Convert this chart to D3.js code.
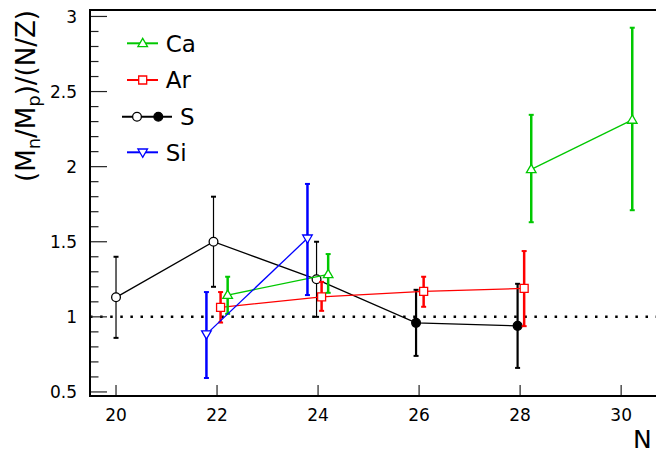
<!DOCTYPE html>
<html lang="en">
<head>
    <meta charset="UTF-8">
    <title>Mn/Mp ratio vs N</title>
    <script src="https://d3js.org/d3.v7.min.js"></script>
    <style>
        body {
            margin: 0;
            background: #fff;
            font-family: "DejaVu Sans", sans-serif;
        }
        svg {
            display: block;
        }
    </style>
</head>
<body>
    <div id="container"></div>

    <script>
        // ---- data ----
        // S (open circles for N=20..24, filled for 26, 28)
        const sN = [20.0, 21.93, 23.97, 25.94, 27.95];
        const sVal = [1.13, 1.50, 1.25, 0.96, 0.94];
        const sHi = [1.40, 1.80, 1.50, 1.18, 1.22];
        const sLo = [0.86, 1.20, 1.00, 0.74, 0.66];
        const sFilled = [false, false, false, true, true];

        // Ar
        const arN = [22.07, 24.07, 26.09, 28.08];
        const arVal = [1.063, 1.133, 1.169, 1.189];
        const arHi = [1.165, 1.233, 1.267, 1.438];
        const arLo = [0.962, 1.04, 1.067, 0.938];

        // Ca (two separate line pieces)
        const caN = [22.21, 24.2, 28.22, 30.22];
        const caVal = [1.145, 1.283, 1.982, 2.311];
        const caHi = [1.267, 1.418, 2.345, 2.925];
        const caLo = [1.02, 1.16, 1.63, 1.71];
        const caPiece = [0, 0, 1, 1];

        // Si
        const siN = [21.79, 23.79];
        const siVal = [0.885, 1.523];
        const siHi = [1.165, 1.885];
        const siLo = [0.593, 1.145];

        const xTicks = [20, 22, 24, 26, 28, 30];
        const yTicks = [0.5, 1, 1.5, 2, 2.5, 3];
        const legendNames = ['Ca', 'Ar', 'S', 'Si'];

        // ---- layout ----
        const width = 656, height = 455;
        const mLeft = 90, mTop = 10, mBottom = 396, mRight = 656;

        const svg = d3.select('#container').append('svg')
            .attr('width', width)
            .attr('height', height);

        const x = d3.scaleLinear().domain([19.485, 30.69]).range([mLeft, mRight]);
        const y = d3.scaleLinear().domain([0.473, 3.043]).range([mBottom, mTop]);

        const green = '#00c800', red = '#ff0000', blue = '#0000ff';

        // marker shapes
        function markerPath(kind) {
            if (kind === 'up') return 'M0,-5L4.8,3.3L-4.8,3.3Z';
            if (kind === 'down') return 'M0,5L4.8,-3.3L-4.8,-3.3Z';
            if (kind === 'square') return 'M-4,-4H4V4H-4Z';
            return d3.symbol().type(d3.symbolCircle).size(60)();
        }

        // ---- dotted line at 1 ----
        svg.append('line')
            .attr('x1', mLeft).attr('x2', mRight)
            .attr('y1', y(1)).attr('y2', y(1))
            .attr('stroke', '#000')
            .attr('stroke-width', 2.5)
            .attr('stroke-dasharray', '2.5 7.6');

        // ---- axes ----
        const yMinor = d3.range(5, 31).map(d => d / 10).filter(d => !yTicks.includes(d));

        svg.selectAll('.yminor')
            .data(yMinor)
            .enter()
            .append('line')
            .attr('x1', mLeft).attr('x2', mLeft + 8.5)
            .attr('y1', d => y(d)).attr('y2', d => y(d))
            .attr('stroke', '#222')
            .attr('stroke-width', 1.2);

        svg.selectAll('.ymajor')
            .data(yTicks)
            .enter()
            .append('line')
            .attr('x1', mLeft).attr('x2', mLeft + 17)
            .attr('y1', d => y(d)).attr('y2', d => y(d))
            .attr('stroke', '#222')
            .attr('stroke-width', 1.2);

        svg.selectAll('.ylab')
            .data(yTicks)
            .enter()
            .append('text')
            .attr('x', 77)
            .attr('y', d => y(d))
            .attr('dy', '0.36em')
            .attr('text-anchor', 'end')
            .attr('font-size', 17)
            .text(d => d);

        svg.selectAll('.xmajor')
            .data(xTicks)
            .enter()
            .append('line')
            .attr('x1', d => x(d)).attr('x2', d => x(d))
            .attr('y1', mBottom).attr('y2', mBottom - 11)
            .attr('stroke', '#222')
            .attr('stroke-width', 1.2);

        svg.selectAll('.xlab')
            .data(xTicks)
            .enter()
            .append('text')
            .attr('x', d => x(d))
            .attr('y', 421)
            .attr('text-anchor', 'middle')
            .attr('font-size', 17)
            .text(d => d);

        // frame
        svg.append('path')
            .attr('d', `M${mRight},${mTop}H${mLeft}V${mBottom}H${mRight}`)
            .attr('fill', 'none')
            .attr('stroke', '#000')
            .attr('stroke-width', 2);

        // axis titles
        svg.append('text')
            .attr('x', 633)
            .attr('y', 448)
            .attr('font-size', 25)
            .text('N');

        const yt = svg.append('text')
            .attr('transform', 'translate(35,96) rotate(-90)')
            .attr('text-anchor', 'middle')
            .attr('font-size', 26);
        yt.append('tspan').text('(M');
        yt.append('tspan').attr('font-size', 18).attr('dy', 5).text('n');
        yt.append('tspan').attr('dy', -5).text('/M');
        yt.append('tspan').attr('font-size', 18).attr('dy', 5).text('p');
        yt.append('tspan').attr('dy', -5).text(')/(N/Z)');

        // ---- series ----
        function pts(N, val, hi, lo) {
            return N.map((n, i) => ({ n: n, v: val[i], hi: hi[i], lo: lo[i], i: i }));
        }

        const line = d3.line().x(d => x(d.n)).y(d => y(d.v));

        function drawSeries(data, color, lineW, barW, kind, pieces, filledFlags) {
            const g = svg.append('g');

            // connecting line(s)
            const groups = d3.groups(data, d => pieces ? pieces[d.i] : 0);
            groups.forEach(grp => {
                g.append('path')
                    .attr('d', line(grp[1]))
                    .attr('fill', 'none')
                    .attr('stroke', color)
                    .attr('stroke-width', lineW);
            });

            // error bars
            g.selectAll('.bar')
                .data(data)
                .enter()
                .append('line')
                .attr('x1', d => x(d.n)).attr('x2', d => x(d.n))
                .attr('y1', d => y(d.hi)).attr('y2', d => y(d.lo))
                .attr('stroke', color)
                .attr('stroke-width', d => typeof barW === 'function' ? barW(d) : barW);

            ['hi', 'lo'].forEach(k => {
                g.selectAll('.cap' + k)
                    .data(data)
                    .enter()
                    .append('line')
                    .attr('x1', d => x(d.n) - 2.5).attr('x2', d => x(d.n) + 2.5)
                    .attr('y1', d => y(d[k])).attr('y2', d => y(d[k]))
                    .attr('stroke', color)
                    .attr('stroke-width', 2);
            });

            // markers
            g.selectAll('.mk')
                .data(data)
                .enter()
                .append('path')
                .attr('transform', d => `translate(${x(d.n)},${y(d.v)})`)
                .attr('d', markerPath(kind))
                .attr('fill', d => filledFlags && filledFlags[d.i] ? color : '#fff')
                .attr('stroke', color)
                .attr('stroke-width', 1.3);
        }

        drawSeries(pts(sN, sVal, sHi, sLo), '#000', 1.3,
            d => sFilled[d.i] ? 2.2 : 1.2, 'circle', null, sFilled);
        drawSeries(pts(arN, arVal, arHi, arLo), red, 1.3, 2.5, 'square');
        drawSeries(pts(caN, caVal, caHi, caLo), green, 1.3, 2.5, 'up', caPiece);
        drawSeries(pts(siN, siVal, siHi, siLo), blue, 1.3, 2.5, 'down');

        // ---- legend ----
        const legendY = [43.3, 80, 116.7, 152.3];
        const legendColor = [green, red, '#000', blue];
        const legendKind = ['up', 'square', 'circle', 'down'];

        legendNames.forEach((name, i) => {
            const ly = legendY[i];
            if (name === 'S') {
                svg.append('line')
                    .attr('x1', 122).attr('x2', 172)
                    .attr('y1', ly).attr('y2', ly)
                    .attr('stroke', '#000').attr('stroke-width', 2);
                svg.append('path')
                    .attr('transform', `translate(137,${ly})`)
                    .attr('d', markerPath('circle'))
                    .attr('fill', '#fff').attr('stroke', '#000').attr('stroke-width', 1.3);
                svg.append('path')
                    .attr('transform', `translate(158.3,${ly})`)
                    .attr('d', markerPath('circle'))
                    .attr('fill', '#000').attr('stroke', '#000').attr('stroke-width', 1.3);
                svg.append('text')
                    .attr('x', 180).attr('y', ly).attr('dy', '0.36em')
                    .attr('font-size', 23)
                    .text(name);
            } else {
                svg.append('line')
                    .attr('x1', 127).attr('x2', 158)
                    .attr('y1', ly).attr('y2', ly)
                    .attr('stroke', legendColor[i]).attr('stroke-width', 2);
                svg.append('path')
                    .attr('transform', `translate(142.7,${ly})`)
                    .attr('d', markerPath(legendKind[i]))
                    .attr('fill', '#fff').attr('stroke', legendColor[i]).attr('stroke-width', 1.3);
                svg.append('text')
                    .attr('x', 165.7).attr('y', ly).attr('dy', '0.36em')
                    .attr('font-size', 23)
                    .text(name);
            }
        });
    </script>
</body>
</html>
